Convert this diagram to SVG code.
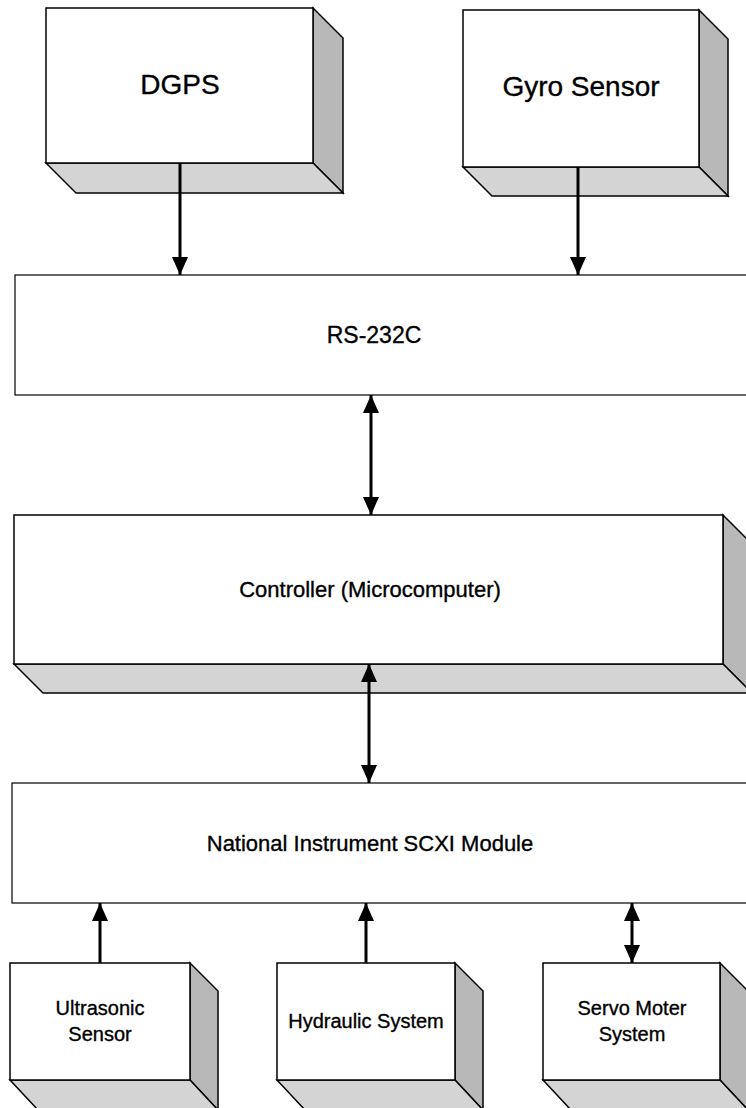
<svg xmlns="http://www.w3.org/2000/svg" width="746" height="1108" viewBox="0 0 746 1108">
<style>
.front{fill:#ffffff;stroke:#000;stroke-width:1.5}
.side{fill:#b8b8b8;stroke:#000;stroke-width:1.5;stroke-linejoin:miter}
.bot{fill:#d4d4d4;stroke:#000;stroke-width:1.5}
.flat{fill:#ffffff;stroke:#000;stroke-width:1.2}
.lbl{font-family:"Liberation Sans",Arial,sans-serif;fill:#000;stroke:#000;stroke-width:0.35;text-anchor:middle}
.big{font-size:28px}
.mid{font-size:22px}
.sml{font-size:20px}
.conn{stroke:#000;stroke-width:3;fill:none}
</style>
<defs>
<marker id="ah" viewBox="0 0 18 16" refX="18" refY="8" markerWidth="18" markerHeight="16" markerUnits="userSpaceOnUse" orient="auto-start-reverse">
<path d="M0,0 L18,8 L0,16 z" fill="#000"/>
</marker>
</defs>
<rect width="746" height="1108" fill="#fff"/>

<g id="dgps">
<polygon class="side" points="313,8 343,38 343,193 313,163"/>
<polygon class="bot" points="46,163 76,193 343,193 313,163"/>
<rect class="front" x="46" y="8" width="267" height="155"/>
<text class="lbl big" x="180" y="94">DGPS</text>
</g>

<g id="gyro">
<polygon class="side" points="699,10 728,39 728,196 699,167"/>
<polygon class="bot" points="463,167 492,196 728,196 699,167"/>
<rect class="front" x="463" y="10" width="236" height="157"/>
<text class="lbl big" x="581" y="96">Gyro Sensor</text>
</g>

<g id="rs232c">
<rect class="flat" x="15" y="275" width="740" height="120"/>
<text class="lbl mid" x="374" y="343" style="font-size:23px">RS-232C</text>
</g>

<g id="controller">
<polygon class="side" points="723,515 752,544 752,693 723,664"/>
<polygon class="bot" points="14,664 43,693 752,693 723,664"/>
<rect class="front" x="14" y="515" width="709" height="149"/>
<text class="lbl mid" x="370" y="597">Controller (Microcomputer)</text>
</g>

<g id="scxi">
<rect class="flat" x="12" y="783" width="745" height="120"/>
<text class="lbl mid" x="370" y="851">National Instrument SCXI Module</text>
</g>

<g id="ultrasonic">
<polygon class="side" points="190,963 218,991 218,1110 190,1080"/>
<polygon class="bot" points="10,1080 38,1110 218,1110 190,1080"/>
<rect class="front" x="10" y="963" width="180" height="117"/>
<text class="lbl sml" x="100" y="1015">Ultrasonic</text>
<text class="lbl sml" x="100" y="1041">Sensor</text>
</g>

<g id="hydraulic">
<polygon class="side" points="455,963 483,991 483,1110 455,1080"/>
<polygon class="bot" points="277,1080 305,1110 483,1110 455,1080"/>
<rect class="front" x="277" y="963" width="178" height="117"/>
<text class="lbl sml" x="366" y="1028">Hydraulic System</text>
</g>

<g id="servo">
<polygon class="side" points="720,963 748,991 748,1110 720,1080"/>
<polygon class="bot" points="543,1080 571,1110 748,1110 720,1080"/>
<rect class="front" x="543" y="963" width="177" height="117"/>
<text class="lbl sml" x="632" y="1015">Servo Moter</text>
<text class="lbl sml" x="632" y="1041">System</text>
</g>

<g id="connectors">
<line class="conn" x1="180" y1="163" x2="180" y2="275" marker-end="url(#ah)"/>
<line class="conn" x1="578" y1="167" x2="578" y2="275" marker-end="url(#ah)"/>
<line class="conn" x1="371" y1="395" x2="371" y2="515" marker-start="url(#ah)" marker-end="url(#ah)"/>
<line class="conn" x1="369" y1="664" x2="369" y2="783" marker-start="url(#ah)" marker-end="url(#ah)"/>
<line class="conn" x1="100" y1="963" x2="100" y2="903" marker-end="url(#ah)"/>
<line class="conn" x1="366" y1="963" x2="366" y2="903" marker-end="url(#ah)"/>
<line class="conn" x1="632" y1="903" x2="632" y2="963" marker-start="url(#ah)" marker-end="url(#ah)"/>
</g>
</svg>
